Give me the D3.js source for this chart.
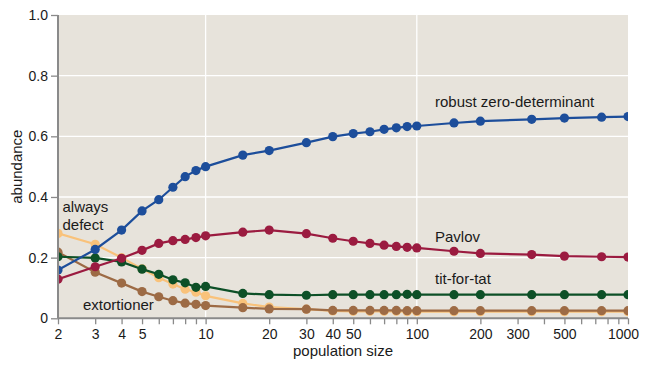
<!DOCTYPE html>
<html><head><meta charset="utf-8">
<script src="https://cdn.jsdelivr.net/npm/d3@7"></script>
<style>
html,body{margin:0;padding:0;background:#fff;}
svg{display:block;font-family:"Liberation Sans",Arial,sans-serif;}
</style></head>
<body><svg id="c" width="649" height="370"></svg>
<script>
const popSizes = [2,3,4,5,6,7,8,9,10,15,20,30,40,50,60,70,80,90,100,150,200,350,500,750,1000];
const robustZD = [0.159,0.227,0.291,0.354,0.391,0.432,0.467,0.487,0.500,0.538,0.553,0.579,0.599,0.609,0.615,0.623,0.628,0.632,0.634,0.644,0.650,0.656,0.660,0.663,0.665];
const pavlov = [0.129,0.170,0.198,0.224,0.247,0.256,0.260,0.266,0.272,0.284,0.291,0.279,0.264,0.254,0.247,0.241,0.237,0.234,0.232,0.221,0.214,0.210,0.205,0.203,0.202];
const titForTat = [0.203,0.199,0.186,0.162,0.145,0.127,0.117,0.102,0.105,0.082,0.078,0.076,0.078,0.078,0.078,0.078,0.078,0.079,0.078,0.078,0.078,0.078,0.078,0.078,0.078];
const extortioner = [0.218,0.152,0.116,0.088,0.071,0.058,0.050,0.046,0.042,0.035,0.031,0.030,0.026,0.026,0.026,0.026,0.026,0.025,0.025,0.025,0.025,0.025,0.025,0.025,0.025];
const alwaysDefect = [0.280,0.244,0.200,0.163,0.134,0.113,0.096,0.086,0.074,0.049,0.037,0.030,0.024,0.023,0.023,0.023,0.023,0.022,0.022,0.022,0.022,0.022,0.022,0.022,0.022];
const xTickLabels = [2,3,4,5,10,20,30,40,50,100,200,300,500,1000];
const xMinorTicks = [6,7,8,9,60,70,80,90,400,600,700,800,900];
const yTicks = [0,0.2,0.4,0.6,0.8,1.0];
const xGrid = [10,100];

const series = [
  {name:"always defect", values:alwaysDefect, color:"#f9c27a"},
  {name:"extortioner", values:extortioner, color:"#9d6b45"},
  {name:"tit-for-tat", values:titForTat, color:"#0d5027"},
  {name:"Pavlov", values:pavlov, color:"#9b1b40"},
  {name:"robust zero-determinant", values:robustZD, color:"#1d4e9b"}
];
const labels = [
  {lines:["robust zero-determinant"], x:435, y:107},
  {lines:["Pavlov"], x:435, y:242},
  {lines:["tit-for-tat"], x:435, y:284},
  {lines:["always","defect"], x:62.5, y:212},
  {lines:["extortioner"], x:83, y:310}
];

const m = {left:58, top:15, right:21, bottom:52};
const W = 649, H = 370;
const iw = W - m.left - m.right, ih = H - m.top - m.bottom + 0.3;
const svg = d3.select("#c");
const x = d3.scaleLog().domain([2,1000]).range([0, iw]);
const y = d3.scaleLinear().domain([0,1]).range([ih, 0]);
const g = svg.append("g").attr("transform",`translate(${m.left},${m.top})`);

g.append("rect").attr("width",iw).attr("height",ih).attr("fill","#e7e3db");
g.append("clipPath").attr("id","clip").append("rect").attr("width",iw).attr("height",ih);

// grid
g.selectAll(".hg").data(yTicks.filter(d=>d>0&&d<1)).join("line")
  .attr("x1",0).attr("x2",iw).attr("y1",d=>y(d)).attr("y2",d=>y(d))
  .attr("stroke","#fff").attr("stroke-width",1.3);
g.selectAll(".vg").data(xGrid).join("line")
  .attr("x1",d=>x(d)).attr("x2",d=>x(d)).attr("y1",0).attr("y2",ih)
  .attr("stroke","#fff").attr("stroke-width",1.3);

// series
const plot = g.append("g").attr("clip-path","url(#clip)");
const line = d3.line().x((d,i)=>x(popSizes[i])).y(d=>y(d));
series.forEach(s=>{
  plot.append("path").datum(s.values).attr("d",line)
    .attr("fill","none").attr("stroke",s.color).attr("stroke-width",2.2);
  plot.selectAll(null).data(s.values).join("circle")
    .attr("cx",(d,i)=>x(popSizes[i])).attr("cy",d=>y(d)).attr("r",4.6)
    .attr("fill",s.color);
});

// axes
const axisColor = "#8a8a8a";
const yAxis = g.append("g").call(d3.axisLeft(y).tickValues(yTicks)
  .tickFormat(d=>d===0?"0":d3.format(".1f")(d)).tickSize(7).tickPadding(3));
const xAxis = g.append("g").attr("transform",`translate(0,${ih})`)
  .call(d3.axisBottom(x).tickValues(xTickLabels.concat(xMinorTicks))
    .tickFormat(d=>xTickLabels.includes(d)?String(d):"").tickSize(6).tickPadding(5));
[yAxis,xAxis].forEach(a=>{
  a.select(".domain").attr("stroke",axisColor).attr("stroke-width",2);
  a.selectAll(".tick line").attr("stroke",axisColor).attr("stroke-width",1.3);
  a.selectAll(".tick text").attr("fill","#1a1a1a").style("font-size","14px")
    .style("font-family","'Liberation Sans',Arial,sans-serif");
});
xAxis.selectAll(".tick text").filter(d=>d===1000).attr("dx",-5);
yAxis.select(".domain").attr("d",`M0,${ih}V0`);
xAxis.select(".domain").attr("d",`M0,0H${iw}`);

// axis titles
svg.append("text").attr("x",343).attr("y",356).attr("text-anchor","middle")
  .attr("font-size",15).attr("fill","#1a1a1a").text("population size");
svg.append("text").attr("transform",`translate(22,${m.top+ih/2}) rotate(-90)`)
  .attr("text-anchor","middle").attr("font-size",15).attr("fill","#1a1a1a").text("abundance");

// series labels
labels.forEach(l=>{
  const t = svg.append("text").attr("x",l.x).attr("y",l.y).attr("font-size",15).attr("fill","#1a1a1a");
  l.lines.forEach((ln,i)=>t.append("tspan").attr("x",l.x).attr("dy",i?17.5:0).text(ln));
});
</script></body></html>
